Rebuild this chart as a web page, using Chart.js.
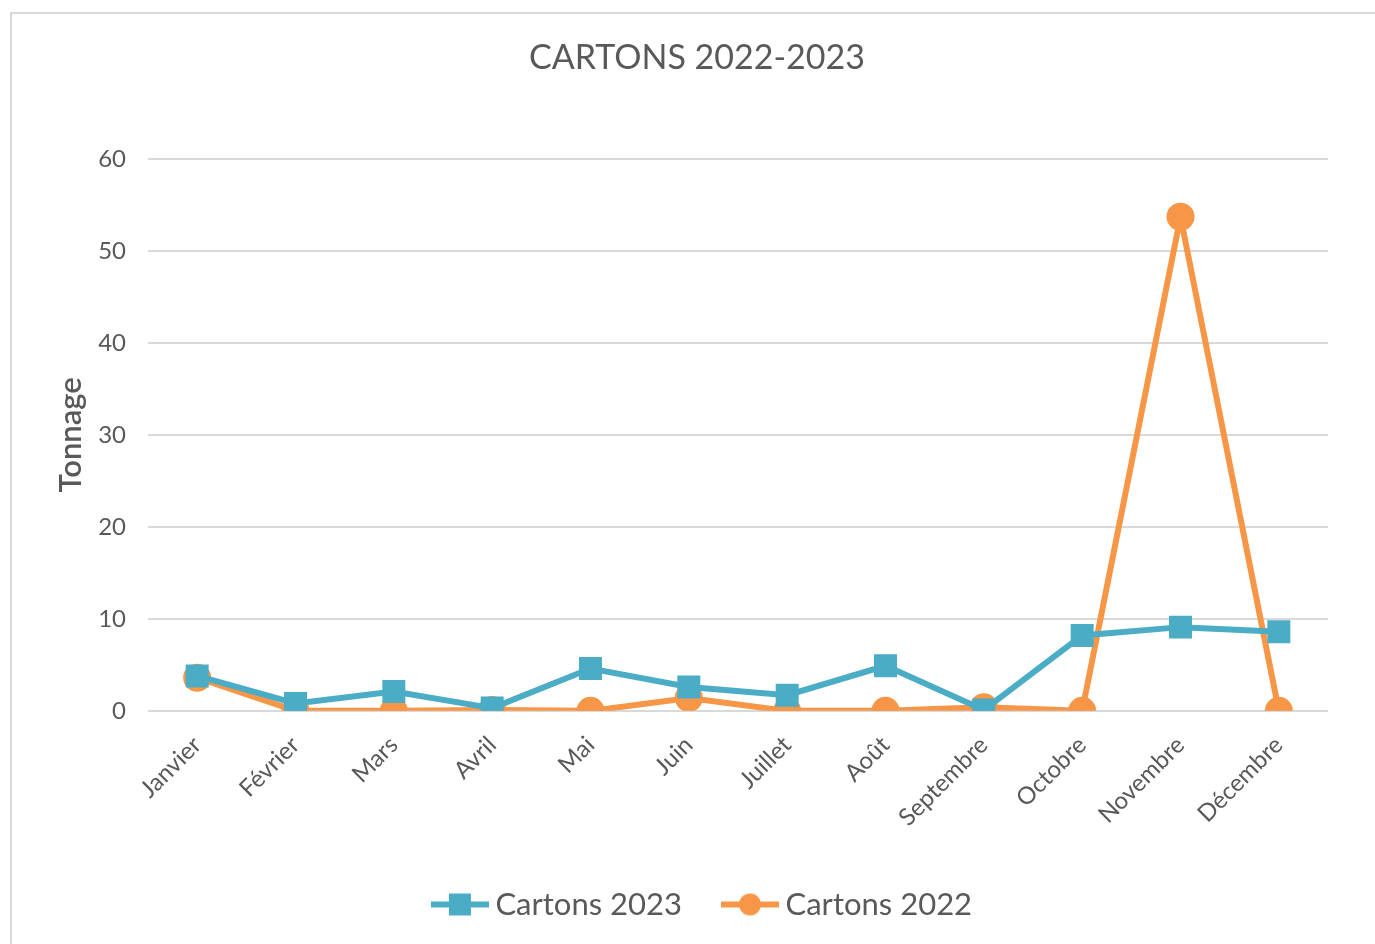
<!DOCTYPE html>
<html>
<head>
<meta charset="utf-8">
<script src="https://cdn.jsdelivr.net/npm/chart.js@4"></script>
<style>
  html, body { margin: 0; padding: 0; background: #fff; overflow: hidden; }
  #frame { position: absolute; left: 10px; top: 12px; width: 1400px; height: 960px; border: 2px solid #d9d9d9; }
  #wrap { position: absolute; left: 0; top: 0; width: 1363px; height: 916px; }
</style>
</head>
<body>
<div id="frame"><div id="wrap"><canvas id="chart"></canvas></div></div>
<script>
const months = ['Janvier', 'Février', 'Mars', 'Avril', 'Mai', 'Juin', 'Juillet', 'Août', 'Septembre', 'Octobre', 'Novembre', 'Décembre'];
const cartons2023 = [3.8, 0.8, 2.1, 0.3, 4.6, 2.6, 1.7, 4.9, 0.1, 8.2, 9.1, 8.6];
const cartons2022 = [3.6, 0, 0, 0.1, 0, 1.4, 0, 0, 0.4, 0, 53.7, 0];

const BLUE = '#4bacc6';
const ORANGE = '#f79646';
const TEXT = '#595959';
const FONT = 'Lato, "Open Sans", sans-serif';

// legend swatch: short line with the marker in the middle
function swatch(color, style) {
  const c = document.createElement('canvas');
  c.width = 58; c.height = 24;
  const g = c.getContext('2d');
  g.strokeStyle = color; g.lineWidth = 6;
  g.beginPath(); g.moveTo(0, 12); g.lineTo(58, 12); g.stroke();
  g.fillStyle = color;
  if (style === 'rect') g.fillRect(18, 1, 22, 22);
  else { g.beginPath(); g.arc(29, 12, 11, 0, Math.PI * 2); g.fill(); }
  return c;
}

// title and legend sit centred on the plot area rather than the canvas
const nudge = {
  id: 'nudge',
  afterLayout(chart) {
    chart.titleBlock.left += 7; chart.titleBlock.right += 7;
    chart.legend.left += 16; chart.legend.right += 16;
  },
};

const ctx = document.getElementById('chart').getContext('2d');
new Chart(ctx, {
  type: 'line',
  data: {
    labels: months,
    datasets: [
      { label: 'Cartons 2023', data: cartons2023, borderColor: BLUE, backgroundColor: BLUE, borderWidth: 6,
        pointStyle: 'rect', pointRadius: 12, pointHoverRadius: 12, tension: 0 },
      { label: 'Cartons 2022', data: cartons2022, borderColor: ORANGE, backgroundColor: ORANGE, borderWidth: 6,
        pointStyle: 'circle', pointRadius: 11, pointHoverRadius: 11, tension: 0 },
    ],
  },
  plugins: [nudge],
  options: {
    responsive: true, maintainAspectRatio: false, animation: false,
    layout: { padding: { left: 40, right: 47, top: 24, bottom: 0 } },
    scales: {
      x: {
        offset: true,
        grid: { display: false },
        border: { display: false },
        ticks: { color: TEXT, font: { family: FONT, size: 24 }, minRotation: 45, maxRotation: 45, padding: 12 },
        // rotated labels would otherwise push the plot area right
        afterFit: scale => { scale.height -= 3; scale.paddingLeft = 0; scale.paddingRight = 0; },
      },
      y: {
        min: 0, max: 60,
        ticks: { stepSize: 10, color: TEXT, font: { family: FONT, size: 24 }, padding: 22 },
        grid: { color: '#d9d9d9', lineWidth: 2, drawTicks: false },
        border: { display: false },
        title: { display: true, text: 'Tonnage', color: TEXT, font: { family: FONT, size: 31, weight: '600' }, padding: { top: 0, bottom: 12 } },
        afterFit: scale => { scale.width = 96; },
      },
    },
    plugins: {
      title: { display: true, text: 'CARTONS 2022-2023', color: TEXT, font: { family: FONT, size: 34, weight: 'normal' }, padding: { bottom: 80 } },
      legend: {
        position: 'bottom',
        labels: {
          color: TEXT, font: { family: FONT, size: 31 }, usePointStyle: true, pointStyleWidth: 40, boxHeight: 24, padding: 48,
          generateLabels: chart => chart.data.datasets.map((ds, i) => ({
            text: ds.label, fontColor: TEXT, datasetIndex: i, hidden: false,
            pointStyle: swatch(ds.borderColor, ds.pointStyle), lineWidth: 0,
          })),
        },
      },
      tooltip: { enabled: false },
    },
  },
});
</script>
</body>
</html>
